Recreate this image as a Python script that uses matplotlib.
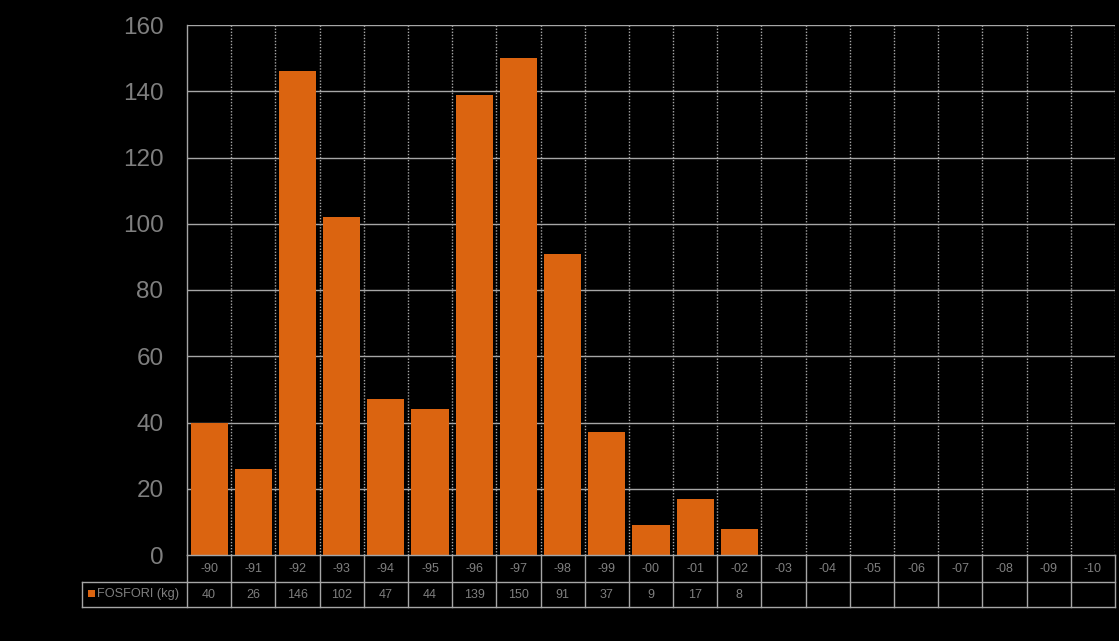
import numpy as np
import matplotlib
matplotlib.use("Agg")
import matplotlib.pyplot as plt
from matplotlib.patches import Rectangle
import matplotlib.transforms as mtransforms

years = ['-90', '-91', '-92', '-93', '-94', '-95', '-96', '-97', '-98', '-99', '-00',
         '-01', '-02', '-03', '-04', '-05', '-06', '-07', '-08', '-09', '-10']
values = [40, 26, 146, 102, 47, 44, 139, 150, 91, 37, 9, 17, 8,
          None, None, None, None, None, None, None, None]
series_name = 'FOSFORI (kg)'
y_ticks = [0, 20, 40, 60, 80, 100, 120, 140, 160]

BAR = '#DB6410'
GRID = '#A6A6A6'
TXT = '#7F7F7F'

plt.rcParams['font.family'] = ['Liberation Sans', 'DejaVu Sans']

W, H = 1119, 641
fig = plt.figure(figsize=(W / 100, H / 100), dpi=100, facecolor='black')
ax = fig.add_axes([187 / W, 1 - 555 / H, (1115 - 187) / W, (555 - 25) / H])
ax.set_facecolor('black')

n = len(years)
x = np.arange(n)
vals = np.array([np.nan if v is None else v for v in values], dtype=float)

ax.set_xlim(-0.5, n - 0.5)
ax.set_ylim(0, 160)
ax.set_yticks(y_ticks)
ax.set_yticklabels([str(t) for t in y_ticks])
ax.tick_params(axis='y', length=0, pad=17, labelsize=17.5, labelcolor=TXT)
ax.set_xticks([])

for yv in y_ticks[1:]:
    ax.axhline(yv, color=GRID, lw=1.0, zorder=1)
for i in range(n):
    ax.axvline(i + 0.5, color=GRID, lw=1.0, linestyle=(0, (1, 1.2)), zorder=1)

ax.bar(x, np.nan_to_num(vals), width=0.84, color=BAR, zorder=2)

for s in ['top', 'right']:
    ax.spines[s].set_visible(False)
ax.spines['left'].set_color(GRID)
ax.spines['bottom'].set_color(GRID)
ax.spines['left'].set_linewidth(1.0)
ax.spines['bottom'].set_linewidth(1.0)

# data table below the axes
trans = mtransforms.blended_transform_factory(ax.transData, ax.transAxes)
ah = 555 - 25
r0_top = 0.0
r0_bot = -(582 - 555) / ah
r1_bot = -(607 - 555) / ah
lx = (82 - 187) / (1115 - 187) * n - 0.5  # legend cell left in data units

def hline(x0, x1, y):
    ax.plot([x0, x1], [y, y], transform=trans, color=GRID, lw=1.0, clip_on=False, zorder=3)

def vline(xv, y0, y1):
    ax.plot([xv, xv], [y0, y1], transform=trans, color=GRID, lw=1.0, clip_on=False, zorder=3)

hline(-0.5, n - 0.5, r0_bot)
hline(lx, -0.5, r0_bot)
hline(lx, n - 0.5, r1_bot)
for i in range(n + 1):
    vline(i - 0.5, r1_bot, r0_top)
vline(lx, r1_bot, r0_bot)

for i in range(n):
    ax.text(i, (r0_top + r0_bot) / 2, years[i], transform=trans, ha='center', va='center',
            fontsize=9, color=TXT, clip_on=False)
    if values[i] is not None:
        ax.text(i, (r0_bot + r1_bot) / 2, str(values[i]), transform=trans, ha='center',
                va='center', fontsize=9, color=TXT, clip_on=False)

# legend key + series name
fig.patches.append(Rectangle((88 / W, 1 - 597 / H), 7 / W, 7 / H, transform=fig.transFigure,
                             facecolor=BAR, edgecolor='none'))
fig.text(97 / W, 1 - 594 / H, series_name, ha='left', va='center', fontsize=9.2, color=TXT)

fig.savefig('out.png', dpi=100, facecolor='black')
